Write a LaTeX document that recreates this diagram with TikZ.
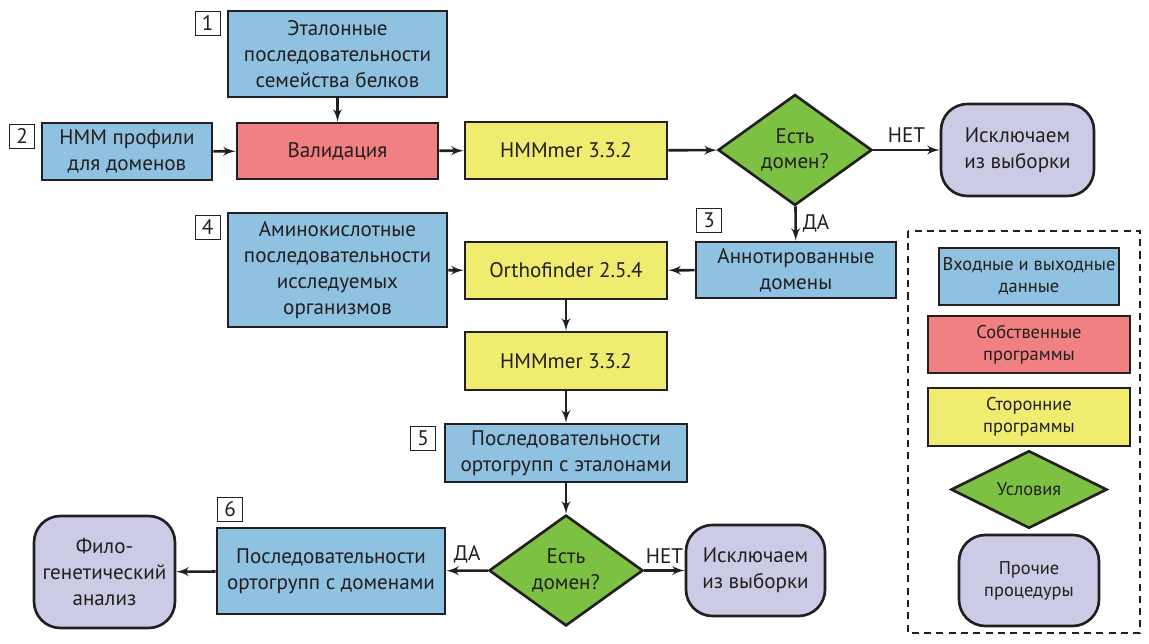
\documentclass[tikz,border=0pt]{standalone}
\usepackage{fontspec}
\setmainfont{PT Sans}
\usetikzlibrary{arrows,shapes.geometric}

\definecolor{inoutcol}{RGB}{143,193,224}
\definecolor{owncol}{RGB}{240,128,130}
\definecolor{extcol}{RGB}{240,236,112}
\definecolor{condcol}{RGB}{125,193,66}
\definecolor{othercol}{RGB}{203,203,230}
\definecolor{ink}{RGB}{35,31,32}

\begin{document}
\begin{tikzpicture}[x=0.02cm,y=-0.02cm]
\useasboundingbox (0,0) rectangle (1149,644);

\tikzset{box/.style = {shape=rectangle,draw=ink,line width=1.5pt,text=ink,align=center,inner sep=0pt,font=\fontsize{12}{14.7}\selectfont}}
\tikzset{iobox/.style = {box,fill=inoutcol}}
\tikzset{ownbox/.style = {box,fill=owncol}}
\tikzset{extbox/.style = {box,fill=extcol}}
\tikzset{condbox/.style = {box,shape=diamond,fill=condcol}}
\tikzset{procbox/.style = {box,fill=othercol,rounded corners=15pt}}
\tikzset{numbox/.style = {draw=ink,line width=0.5pt,text=ink,minimum width=0.5cm,minimum height=0.48cm,inner sep=0pt,font=\fontsize{12}{14}\selectfont}}
\tikzset{legend/.style = {font=\fontsize{10.5}{12.5}\selectfont}}
\tikzset{edge/.style = {->,> = latex',line width=1.45pt,draw=ink}}
\tikzset{elabel/.style = {text=ink,font=\fontsize{12}{14}\selectfont}}

% vertices
\node[iobox,minimum width=4.38cm,minimum height=1.72cm] (seq) at (337.5,54) {Эталонные\\последовательности\\семейства белков};
\node[iobox,minimum width=3.4cm,minimum height=1.14cm] (hmm) at (127,151.5) {HMM профили\\для доменов};
\node[ownbox,minimum width=4.02cm,minimum height=1.12cm] (valid) at (337.5,151) {Валидация};
\node[extbox,minimum width=4.04cm,minimum height=1.14cm] (hmmer1) at (566,150.5) {HMMmer 3.3.2};
\node[condbox,minimum width=3.08cm,minimum height=2.18cm] (dom1) at (795,150) {Есть\\домен?};
\node[procbox,minimum width=3.06cm,minimum height=1.84cm] (excl1) at (1017.5,150) {Исключаем\\из выборки};
\node[iobox,minimum width=4.0cm,minimum height=1.12cm] (annot) at (796,270) {Аннотированные\\домены};
\node[extbox,minimum width=4.04cm,minimum height=1.14cm] (ortho) at (566,270.5) {Orthofinder 2.5.4};
\node[iobox,minimum width=4.38cm,minimum height=2.28cm] (amino) at (337.5,270) {Аминокислотные\\последовательности\\исследуемых\\организмов};
\node[extbox,minimum width=4.04cm,minimum height=1.16cm] (hmmer2) at (566,361) {HMMmer 3.3.2};
\node[iobox,minimum width=4.84cm,minimum height=1.16cm] (ogref) at (566,453) {Последовательности\\ортогрупп с эталонами};
\node[condbox,minimum width=3.08cm,minimum height=2.18cm] (dom2) at (566,570.5) {Есть\\домен?};
\node[procbox,minimum width=2.78cm,minimum height=1.82cm] (excl2) at (755.5,570.5) {Исключаем\\из выборки};
\node[iobox,minimum width=4.56cm,minimum height=1.72cm] (ogdom) at (331,571) {Последовательности\\ортогрупп с доменами};
\node[procbox,minimum width=2.82cm,minimum height=2.24cm] (phylo) at (104.5,572) {Фило-\\генетический\\анализ};

% step numbers
\node[numbox] (n1) at (207.5,23) {1};
\node[numbox] (n2) at (22,136) {2};
\node[numbox] (n3) at (709,220) {3};
\node[numbox] (n4) at (207.5,227) {4};
\node[numbox] (n5) at (423,438) {5};
\node[numbox] (n6) at (230,509) {6};

% edges
\draw[edge] (seq) to (valid);
\draw[edge] (hmm) to (valid);
\draw[edge] (valid) to (hmmer1);
\draw[edge] (hmmer1) to (dom1);
\draw[edge] (dom1) to node[elabel,above] {НЕТ} (excl1);
\draw[edge] (dom1) to node[elabel,right] {ДА} (annot);
\draw[edge] (annot) to (ortho);
\draw[edge] (amino) to (ortho);
\draw[edge] (ortho) to (hmmer2);
\draw[edge] (hmmer2) to (ogref);
\draw[edge] (ogref) to (dom2);
\draw[edge] (dom2) to node[elabel,above] {ДА} (ogdom);
\draw[edge] (dom2) to node[elabel,above] {НЕТ} (excl2);
\draw[edge] (ogdom) to (phylo);

% legend
\draw[ink,line width=1.2pt,dash pattern=on 4pt off 3pt] (908,231) rectangle (1140,633);
\node[iobox,legend,minimum width=3.6cm,minimum height=1.14cm] (lg1) at (1029,276.5) {Входные и выходные\\данные};
\node[ownbox,legend,minimum width=4.04cm,minimum height=1.14cm] (lg2) at (1029,344.5) {Собственные\\программы};
\node[extbox,legend,minimum width=4.04cm,minimum height=1.16cm] (lg3) at (1029,417) {Сторонние\\программы};
\node[condbox,legend,minimum width=3.12cm,minimum height=1.38cm] (lg4) at (1029,489.5) {Условия};
\node[procbox,legend,minimum width=2.8cm,minimum height=1.82cm] (lg5) at (1029,580.5) {Прочие\\процедуры};

\end{tikzpicture}
\end{document}
